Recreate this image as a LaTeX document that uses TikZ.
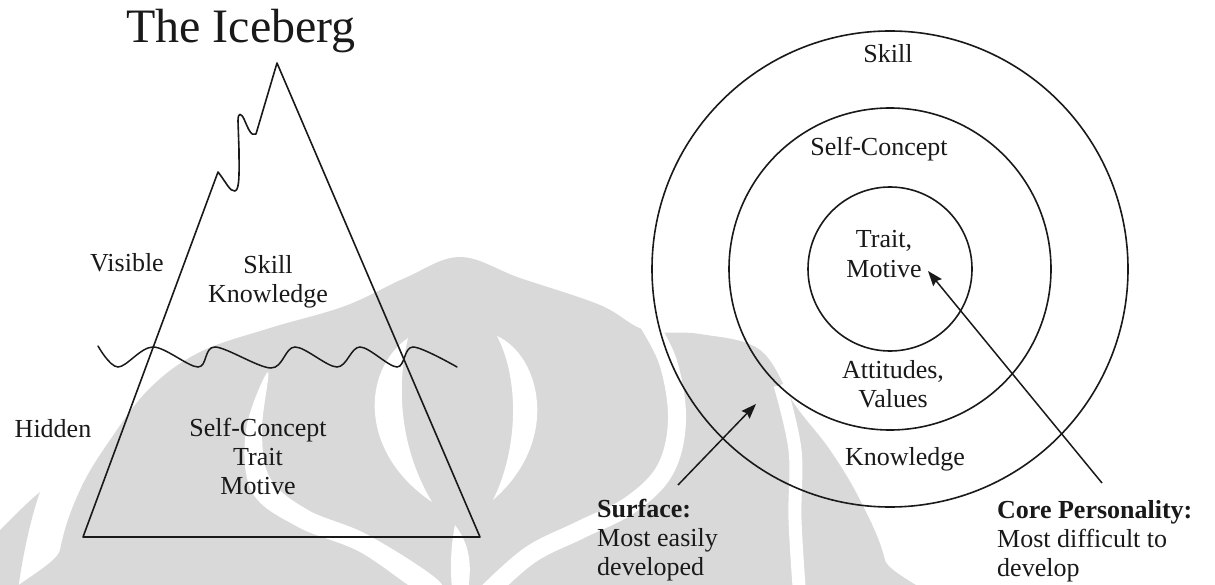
\documentclass[tikz,border=0pt]{standalone}
\usepackage{fontspec}
\setmainfont{Liberation Serif}
\usetikzlibrary{arrows.meta}
\definecolor{markgray}{RGB}{217,217,217}
\definecolor{ink}{RGB}{25,25,25}
\begin{document}
\begin{tikzpicture}[x=1pt,y=-1pt,
  txt/.style={font=\fontsize{26}{29}\selectfont, text=ink, inner sep=0pt, align=center, anchor=base},
  ltxt/.style={txt, align=left, anchor=base west},
  outline/.style={draw=ink, line width=1.6pt, line join=round},
  ring/.style={circle, draw=ink, line width=1.6pt, inner sep=0pt},
  pointer/.style={draw=ink, line width=1.5pt, -{Stealth[length=15pt,width=11pt,inset=2pt]}}
]
\useasboundingbox (0,0) rectangle (1215,585);

% faint background emblem
\begin{scope}
\clip (0,0) rectangle (1215,585);
\fill[markgray] plot[smooth cycle, tension=0.6] coordinates {
  (50,640) (60,550) (80,490) (110,440) (150,388) (200,352) (270,328) (345,306)
  (405,278) (460,257) (520,278) (600,305) (645,330) (700,334) (760,350)
  (795,405) (830,450) (860,500) (885,560) (895,640)};
\fill[markgray] (0,530) .. controls (15,515) and (30,500) .. (40,492)
  .. controls (30,520) and (22,560) .. (18,590) -- (0,590) -- cycle;
% white bands through the emblem
\draw[white, line width=18pt] plot[smooth, tension=0.6] coordinates {
  (645,318) (668,362) (677,420) (665,470) (630,505) (580,530) (530,555) (485,595)};
\draw[white, line width=13pt] plot[smooth, tension=0.6] coordinates {
  (780,385) (795,450) (795,520) (800,600)};
\fill[white] (497,336) .. controls (540,355) and (562,440) .. (493,500)
  .. controls (518,450) and (520,380) .. (497,336);
\fill[white] (408,338) .. controls (362,370) and (358,452) .. (432,502)
  .. controls (402,452) and (395,392) .. (408,338);
\fill[white] plot[smooth cycle, tension=0.6] coordinates {
  (268,372) (246,430) (252,492) (298,527) (360,552) (425,595)
  (440,582) (368,535) (308,510) (270,478) (262,430)};
\fill[white] (455,525) .. controls (470,545) and (472,565) .. (468,590) -- (452,590)
  .. controls (450,565) and (451,545) .. (455,525);
\end{scope}

% title
\node[txt, font=\fontsize{48}{52}\selectfont] (title) at (241,43) {The Iceberg};

% iceberg outline with jagged peak
\draw[outline] (83,537) -- (218,172)
  .. controls (226,182) and (230,192) .. (235,191)
  .. controls (240,190) and (239,170) .. (239,150) -- (238,121)
  .. controls (238,112) and (241,113) .. (244,119)
  .. controls (248,128) and (251,137) .. (256,134)
  -- (277,63) -- (480,537) -- cycle;

% water line
\draw[draw=ink, line width=1.5pt, line cap=round] plot[smooth, tension=0.55] coordinates {
  (98,346) (118,367) (153,347) (198,367) (215,347) (271,368) (295,347)
  (337,367) (360,347) (397,367) (413,347) (457,367)};

% iceberg labels (multi-line nodes sit on the baseline of their last line)
\node[txt] (visible) at (127,272) {Visible};
\node[txt] (above) at (268,302) {Skill\\Knowledge};
\node[txt] (hidden) at (53,437) {Hidden};
\node[txt] (below) at (258,494) {Self-Concept\\Trait\\Motive};

% concentric rings
\coordinate (ctr) at (890,269);
\node[ring, minimum size=476pt] (outer) at (ctr) {};
\node[ring, minimum size=322pt] (middle) at (ctr) {};
\node[ring, minimum size=164pt] (inner) at (ctr) {};

% ring labels
\node[txt] (rskill) at (888,63) {Skill};
\node[txt] (rself) at (879,156) {Self-Concept};
\node[txt] (rcore) at (884,277) {Trait,\\Motive};
\node[txt] (rattit) at (893,407) {Attitudes,\\Values};
\node[txt] (rknow) at (905,465) {Knowledge};

% side notes
\node[ltxt] (surface) at (597,575) {\textbf{Surface:}\\Most easily\\developed};
\node[ltxt] (coretxt) at (997,576) {\textbf{Core Personality:}\\Most difficult to\\develop};

% pointers
\coordinate (sfoot) at (678,485);
\coordinate (stip) at (756,404);
\coordinate (cfoot) at (1102,483);
\coordinate (ctip) at (928,271);
\draw[pointer] (sfoot) -- (stip);
\draw[pointer] (cfoot) -- (ctip);
\end{tikzpicture}
\end{document}
